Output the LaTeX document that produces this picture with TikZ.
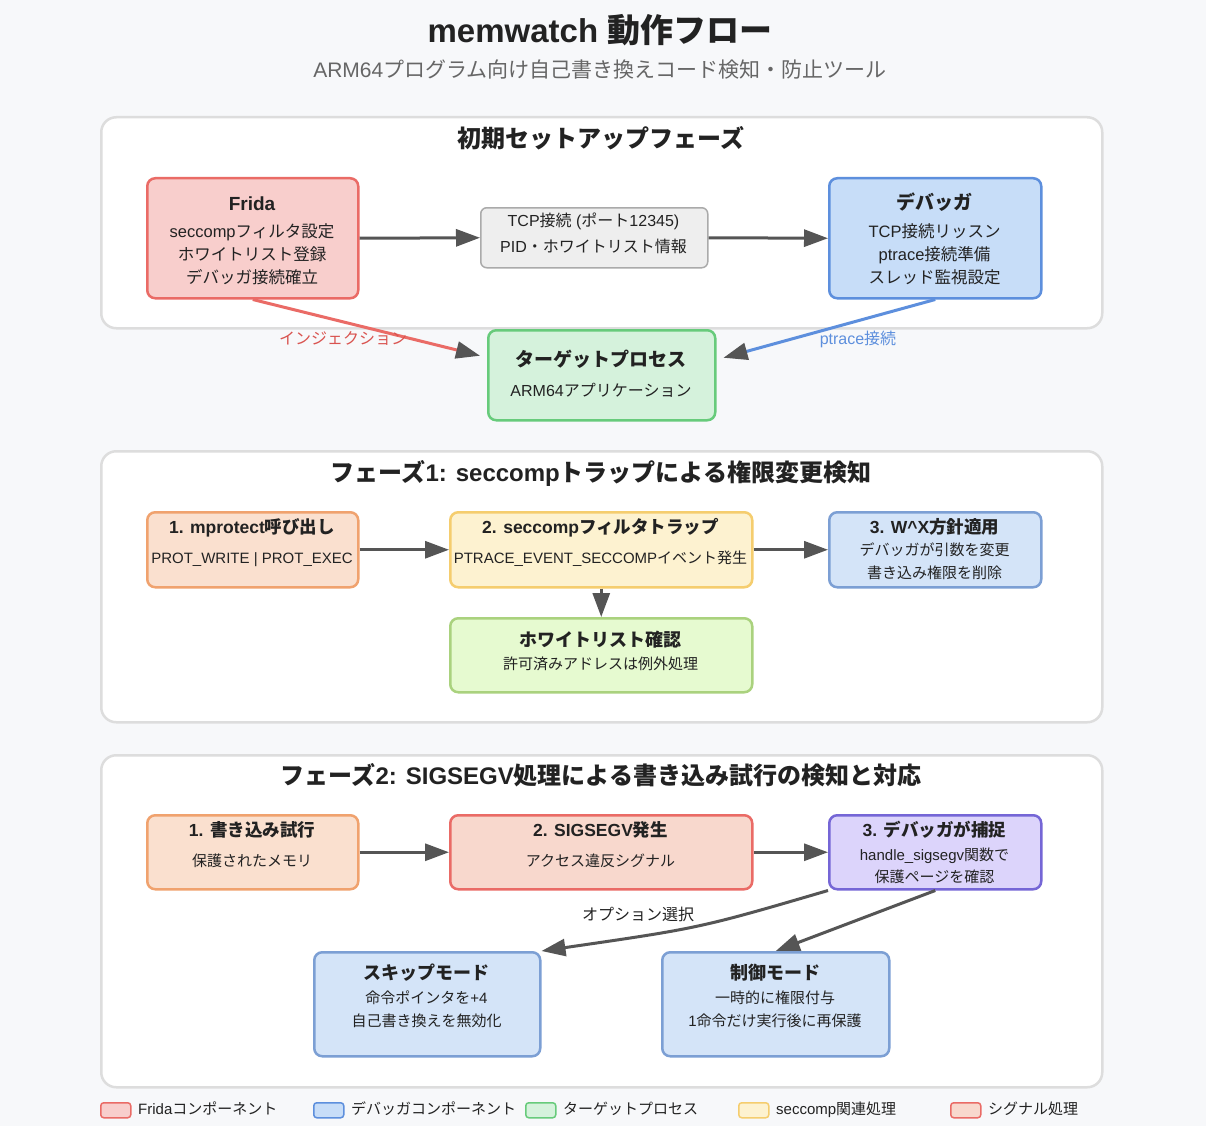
\documentclass[tikz,border=0pt]{standalone}
\usepackage{fontspec}
\setmainfont{Liberation Sans}
\newfontfamily\jafont{Noto Sans CJK JP}
\newfontfamily\lafont{Liberation Sans}
\usetikzlibrary{arrows.meta,calc}
% automatic switch between Latin and Japanese fonts
\newXeTeXintercharclass\JaClass
\newcommand\setjarange[2]{\count255=#1 \loop\XeTeXcharclass\count255=\JaClass\ifnum\count255<#2 \advance\count255 by 1 \repeat}
\setjarange{"3000}{"30FF}
\setjarange{"4E00}{"9FFF}
\setjarange{"FF00}{"FFEF}
\XeTeXinterchartoks 0 \JaClass={\jafont}
\XeTeXinterchartoks 4095 \JaClass={\jafont}
\XeTeXinterchartoks \JaClass 0={\lafont}
\XeTeXinterchartoks \JaClass 4095={\lafont}
\XeTeXinterchartokenstate=1

\definecolor{bgc}{HTML}{F7F8FA}
\definecolor{pnlb}{HTML}{DDDDDD}
\definecolor{ink}{HTML}{222222}
\definecolor{subc}{HTML}{666666}
\definecolor{agray}{HTML}{555555}
\definecolor{redF}{HTML}{F8CECC}\definecolor{redB}{HTML}{EA6B66}
\definecolor{grayF}{HTML}{EEEEEE}\definecolor{grayB}{HTML}{AAAAAA}
\definecolor{bluF}{HTML}{C7DDF8}\definecolor{bluB}{HTML}{5D8FDD}
\definecolor{grnF}{HTML}{D5F2DC}\definecolor{grnB}{HTML}{67CB7B}
\definecolor{orgF}{HTML}{FAE0CF}\definecolor{orgB}{HTML}{F0A26E}
\definecolor{yelF}{HTML}{FDF2D0}\definecolor{yelB}{HTML}{F5CD6E}
\definecolor{stF}{HTML}{D4E4F8}\definecolor{stB}{HTML}{7C9FD4}
\definecolor{limF}{HTML}{E6FAD0}\definecolor{limB}{HTML}{AAD27E}
\definecolor{sigF}{HTML}{F8D8CD}
\definecolor{purF}{HTML}{DCD4FB}\definecolor{purB}{HTML}{7566D6}
\definecolor{injT}{HTML}{D9534F}

\tikzset{
  pnl/.style={draw=pnlb, fill=white, line width=2.5pt, rounded corners=15pt, anchor=north west, inner sep=0pt},
  bx/.style={line width=2.5pt, rounded corners=8pt, anchor=north west, inner sep=0pt},
  txt/.style={anchor=base, inner sep=0pt, text=ink, font=\fontsize{#1}{#1}\selectfont, yshift={-0.38*#1pt}},
  txtb/.style={txt=#1, font=\fontsize{#1}{#1}\selectfont\bfseries},
  arr/.style={draw=agray, line width=3pt, -{Triangle[length=24pt,width=17pt,color=agray]}},
  lgb/.style={line width=1.5pt, rounded corners=3pt, anchor=north west, inner sep=0pt, minimum width=30pt, minimum height=15pt},
  lgt/.style={anchor=base west, inner sep=0pt, text=ink, font=\fontsize{15}{15}\selectfont, yshift=-5.7pt}
}

\begin{document}
\begin{tikzpicture}[x=1pt,y=-1pt]
\fill[bgc] (0,0) rectangle (1206,1126);
\useasboundingbox (0,0) rectangle (1206,1126);

% titles
\node[txtb=33] (title) at (600,30) {memwatch 動作フロー};
\node[txt=21, text=subc] (subtitle) at (600,70) {ARM64プログラム向け自己書き換えコード検知・防止ツール};

% panels
\node[pnl, minimum width=1001pt, minimum height=211pt] (p0) at (100,116) {};
\node[pnl, minimum width=1001pt, minimum height=271pt] (p1) at (100,450) {};
\node[pnl, minimum width=1001pt, minimum height=332pt] (p2) at (100,754) {};
\node[txtb=24] (p0t) at (601,138) {初期セットアップフェーズ};
\node[txtb=24] (p1t) at (601,472) {フェーズ1: seccompトラップによる権限変更検知};
\node[txtb=24] (p2t) at (601,775) {フェーズ2: SIGSEGV処理による書き込み試行の検知と対応};

% ---------- setup phase ----------
\node[bx, fill=redF, draw=redB, minimum width=211pt, minimum height=120pt] (frida) at (146,177) {};
\node[txtb=19] (fridaT) at (252,203) {Frida};
\node[txt=16.5] (fridaA) at (252,231) {seccompフィルタ設定};
\node[txt=16.5] (fridaB) at (252,254) {ホワイトリスト登録};
\node[txt=16.5] (fridaC) at (252,277) {デバッガ接続確立};

\node[bx, fill=grayF, draw=grayB, line width=1.5pt, rounded corners=6pt, minimum width=227pt, minimum height=60pt] (tcp) at (480,207) {};
\node[txt=16] (tcpA) at (593.5,220) {TCP接続 (ポート12345)};
\node[txt=16] (tcpB) at (593.5,246) {PID・ホワイトリスト情報};

\node[bx, fill=bluF, draw=bluB, minimum width=212pt, minimum height=120pt] (dbg) at (828,177) {};
\node[txtb=19] (dbgT) at (934.5,202) {デバッガ};
\node[txt=16.5] (dbgA) at (934.5,231) {TCP接続リッスン};
\node[txt=16.5] (dbgB) at (934.5,254) {ptrace接続準備};
\node[txt=16.5] (dbgC) at (934.5,277) {スレッド監視設定};

\node[bx, fill=grnF, draw=grnB, minimum width=227pt, minimum height=90pt] (target) at (487,329) {};
\node[txtb=19] (targetT) at (601,359) {ターゲットプロセス};
\node[txt=16] (targetA) at (601,390) {ARM64アプリケーション};

\draw[arr] (frida.east) -- (tcp.west);
\draw[arr] (tcp.east) -- (dbg.west);
\draw[arr, draw=redB] (frida.south) -- ($(target.west)+(-7,-19.5)$);
\draw[arr, draw=bluB] (dbg.south) -- ($(target.east)+(7,-17.5)$);
\node[txt=16, text=injT] (injL) at (343,338) {インジェクション};
\node[txt=16, text=bluB] (ptrL) at (858,338) {ptrace接続};

% ---------- phase 1 ----------
\node[bx, fill=orgF, draw=orgB, minimum width=211pt, minimum height=75pt] (b1) at (146,511) {};
\node[txtb=17.5] (b1T) at (252,527) {1. mprotect呼び出し};
\node[txt=15] (b1A) at (252,558) {PROT\_WRITE | PROT\_EXEC};

\node[bx, fill=yelF, draw=yelB, minimum width=302pt, minimum height=75pt] (b2) at (449,511) {};
\node[txtb=17.5] (b2T) at (600.5,527) {2. seccompフィルタトラップ};
\node[txt=15] (b2A) at (600.5,558) {PTRACE\_EVENT\_SECCOMPイベント発生};

\node[bx, fill=stF, draw=stB, minimum width=212pt, minimum height=75pt] (b3) at (828,511) {};
\node[txtb=17.5] (b3T) at (934.5,527) {3. W\textasciicircum X方針適用};
\node[txt=15] (b3A) at (934.5,550) {デバッガが引数を変更};
\node[txt=15] (b3B) at (934.5,573) {書き込み権限を削除};

\node[bx, fill=limF, draw=limB, minimum width=302pt, minimum height=74pt] (wl) at (449,617) {};
\node[txtb=18] (wlT) at (600.5,640) {ホワイトリスト確認};
\node[txt=15] (wlA) at (600.5,664) {許可済みアドレスは例外処理};

\draw[arr] (b1.east) -- (b2.west);
\draw[arr] (b2.east) -- (b3.west);
\draw[arr] (b2.south) -- (wl.north);

% ---------- phase 2 ----------
\node[bx, fill=orgF, draw=orgB, minimum width=211pt, minimum height=74pt] (c1) at (146,814) {};
\node[txtb=17.5] (c1T) at (252,830) {1. 書き込み試行};
\node[txt=15] (c1A) at (252,861) {保護されたメモリ};

\node[bx, fill=sigF, draw=redB, minimum width=302pt, minimum height=74pt] (c2) at (449,814) {};
\node[txtb=17.5] (c2T) at (600.5,830) {2. SIGSEGV発生};
\node[txt=15] (c2A) at (600.5,861) {アクセス違反シグナル};

\node[bx, fill=purF, draw=purB, minimum width=212pt, minimum height=74pt] (c3) at (828,814) {};
\node[txtb=17.5] (c3T) at (934.5,830) {3. デバッガが捕捉};
\node[txt=15] (c3A) at (934.5,855) {handle\_sigsegv関数で};
\node[txt=15] (c3B) at (934.5,877) {保護ページを確認};

\node[bx, fill=stF, draw=stB, minimum width=226pt, minimum height=104pt] (skip) at (313,951) {};
\node[txtb=18] (skipT) at (426.5,973) {スキップモード};
\node[txt=15] (skipA) at (426.5,998) {命令ポインタを+4};
\node[txt=15] (skipB) at (426.5,1021) {自己書き換えを無効化};

\node[bx, fill=stF, draw=stB, minimum width=227pt, minimum height=104pt] (ctrl) at (661,951) {};
\node[txtb=18] (ctrlT) at (775,973) {制御モード};
\node[txt=15] (ctrlA) at (775,998) {一時的に権限付与};
\node[txt=15] (ctrlB) at (775,1021) {1命令だけ実行後に再保護};

\draw[arr] (c1.east) -- (c2.west);
\draw[arr] (c2.east) -- (c3.west);
\draw[arr] (c3.south west) .. controls (700,928) .. (skip.north east);
\draw[arr] (c3.south) -- (ctrl.north);
\node[txt=16] (optL) at (638,914) {オプション選択};

% ---------- legend ----------
\node[lgb, fill=redF, draw=redB] (lg1) at (100,1102) {};
\node[lgt] (lg1t) at (138,1109) {Fridaコンポーネント};
\node[lgb, fill=bluF, draw=bluB] (lg2) at (313,1102) {};
\node[lgt] (lg2t) at (351,1109) {デバッガコンポーネント};
\node[lgb, fill=grnF, draw=grnB] (lg3) at (525,1102) {};
\node[lgt] (lg3t) at (563,1109) {ターゲットプロセス};
\node[lgb, fill=yelF, draw=yelB] (lg4) at (738,1102) {};
\node[lgt] (lg4t) at (776,1109) {seccomp関連処理};
\node[lgb, fill=sigF, draw=redB] (lg5) at (950,1102) {};
\node[lgt] (lg5t) at (988,1109) {シグナル処理};
\end{tikzpicture}
\end{document}
